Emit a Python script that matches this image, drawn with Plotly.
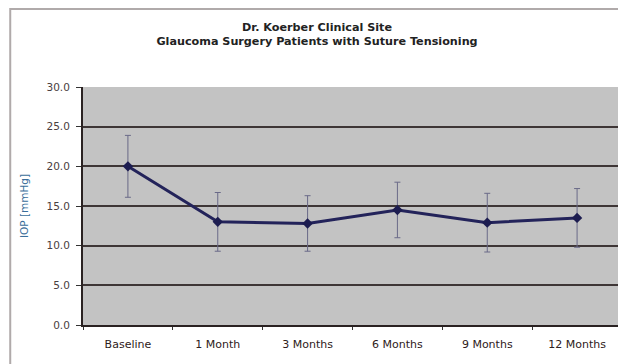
import plotly.graph_objects as go

categories = ["Baseline", "1 Month", "3 Months", "6 Months", "9 Months", "12 Months"]
iop_mean = [20.0, 13.0, 12.8, 14.5, 12.9, 13.5]
iop_sd = [3.9, 3.7, 3.5, 3.5, 3.7, 3.7]
y_ticks = [0, 5, 10, 15, 20, 25, 30]
y_tick_labels = ["0.0", "5.0", "10.0", "15.0", "20.0", "25.0", "30.0"]

fig = go.Figure()
fig.add_trace(go.Scatter(
    x=categories, y=iop_mean,
    mode="lines+markers",
    line=dict(color="#23235a", width=3),
    marker=dict(symbol="diamond", size=8, color="#1c1c50"),
    error_y=dict(type="data", array=iop_sd, visible=True,
                 color="#6a6a88", thickness=1, width=3),
    showlegend=False,
))

fig.update_layout(
    width=618, height=356,
    margin=dict(l=75, r=4, t=79, b=39, autoexpand=False),
    paper_bgcolor="white",
    plot_bgcolor="#c3c3c3",
    font=dict(family="DejaVu Sans, Verdana, sans-serif", size=10, color="#3a3030"),
    title=dict(
        text="<b>Dr. Koerber Clinical Site<br>Glaucoma Surgery Patients with Suture Tensioning</b>",
        x=0.5, xanchor="center", y=0.936, yanchor="top",
        font=dict(size=11.2, color="#222222"),
        automargin=False,
    ),
    shapes=[dict(type="rect", xref="paper", yref="paper",
                 x0=-0.135, x1=1.1, y0=-0.3, y1=1.328,
                 line=dict(color="#b0aaaa", width=2), layer="below")],
)

fig.update_xaxes(
    type="category",
    tickson="boundaries",
    ticks="outside", ticklen=3, tickcolor="#333",
    showline=True, linecolor="#2a2222", linewidth=2,
    showgrid=False,
    tickfont=dict(size=11, color="#2e2020"),
    ticklabelstandoff=8,
    range=[-0.5, 5.5],
    automargin=False,
)
fig.update_yaxes(
    range=[0, 30],
    tickvals=y_ticks, ticktext=y_tick_labels,
    ticks="outside", ticklen=5, tickcolor="#333",
    showline=True, linecolor="#2a2222", linewidth=2,
    showgrid=True, gridcolor="#3e3636", gridwidth=2,
    zeroline=False,
    ticklabelstandoff=4,
    title=dict(text="IOP [mmHg]", font=dict(size=10.5, color="#3a6e9a"), standoff=16),
    tickfont=dict(size=10.5, color="#4a4040"),
    automargin=False,
)

fig.write_html("out.html")
